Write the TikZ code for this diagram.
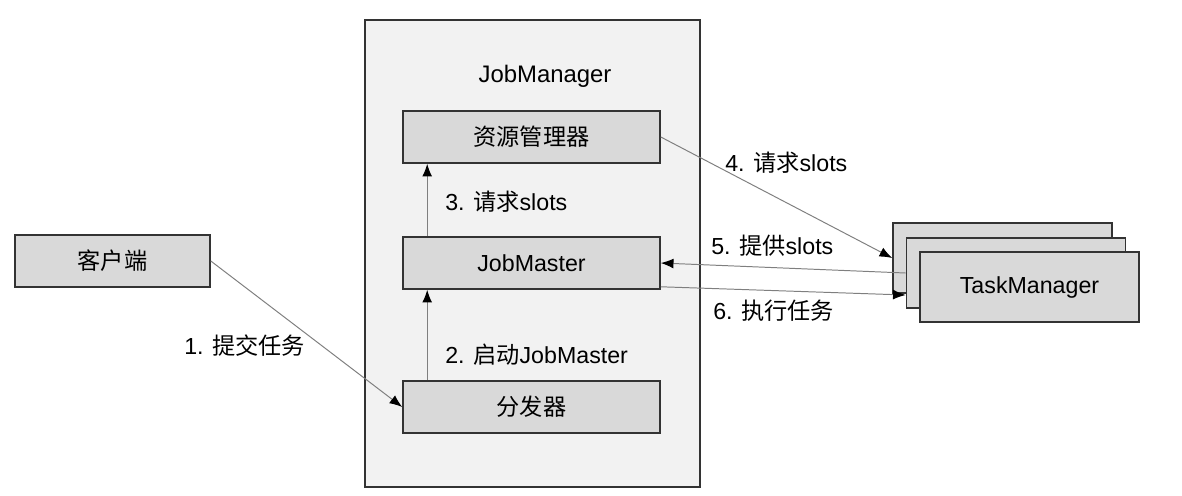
\documentclass[tikz,border=0pt]{standalone}
\usepackage{fontspec}
\setmainfont{Liberation Sans}
\newfontfamily\cjk{Noto Sans CJK SC}
\usetikzlibrary{arrows.meta, positioning}
\definecolor{boxgray}{HTML}{D9D9D9}
\definecolor{paneGray}{HTML}{F2F2F2}
\definecolor{edgeGray}{HTML}{333333}
\definecolor{lineGray}{HTML}{7F7F7F}

\begin{document}
\begin{tikzpicture}[x=0.025cm, y=-0.025cm,
    box/.style={draw=edgeGray, fill=boxgray, line width=1.1pt, minimum width=6.425cm,
      minimum height=1.3cm, font=\fontsize{16.5}{20}\selectfont},
    lbl/.style={anchor=west, inner sep=0pt, font=\fontsize{16.5}{20}\selectfont},
    flow/.style={draw=lineGray, line width=0.7pt, -{Latex[length=9pt, width=7pt, color=black]}}]
      \useasboundingbox (0,0) rectangle (1182,495);
      % JobManager pane
      \draw[draw=edgeGray, fill=paneGray, line width=1.1pt] (365,20) rectangle (700,487);
      \node[font=\fontsize{17}{20}\selectfont] (jmtitle) at (545,76) {JobManager};
      \node[box] (rm) at (531.5,137) {\cjk 资源管理器};
      \node[box] (jm) at (531.5,263) {JobMaster};
      \node[box] (fa) at (531.5,407) {\cjk 分发器};
      \node[box, minimum width=4.875cm] (cl) at (112.5,261) {\cjk 客户端};
      % stacked TaskManagers
      \node[box, minimum width=5.475cm, minimum height=1.75cm] (tm3) at (1002.5,258) {};
      \node[box, minimum width=5.475cm, minimum height=1.75cm] (tm2) at (1016,273) {};
      \node[box, minimum width=5.475cm, minimum height=1.75cm] (tm1) at (1029.5,287) {TaskManager};
      % arrows
      \draw[flow] (cl.east) -- (fa.west);
      \draw[flow] ([xshift=0.625cm]fa.north west) -- ([xshift=0.625cm]jm.south west);
      \draw[flow] ([xshift=0.625cm]jm.north west) -- ([xshift=0.625cm]rm.south west);
      \draw[flow] (rm.east) -- (tm3.west);
      \draw[flow] (tm2.west) -- (jm.east);
      \draw[flow] ([yshift=0.075cm]jm.south east) -- ([yshift=-0.55cm]tm2.west);
      % labels
      \node[lbl] (l1) at (184,346) {1. {\cjk 提交任务}};
      \node[lbl] (l2) at (445,355) {2. {\cjk 启动}JobMaster};
      \node[lbl] (l3) at (445,202) {3. {\cjk 请求}slots};
      \node[lbl] (l4) at (725,163) {4. {\cjk 请求}slots};
      \node[lbl] (l5) at (711,246) {5. {\cjk 提供}slots};
      \node[lbl] (l6) at (713,311) {6. {\cjk 执行任务}};
    \end{tikzpicture}
\end{document}
